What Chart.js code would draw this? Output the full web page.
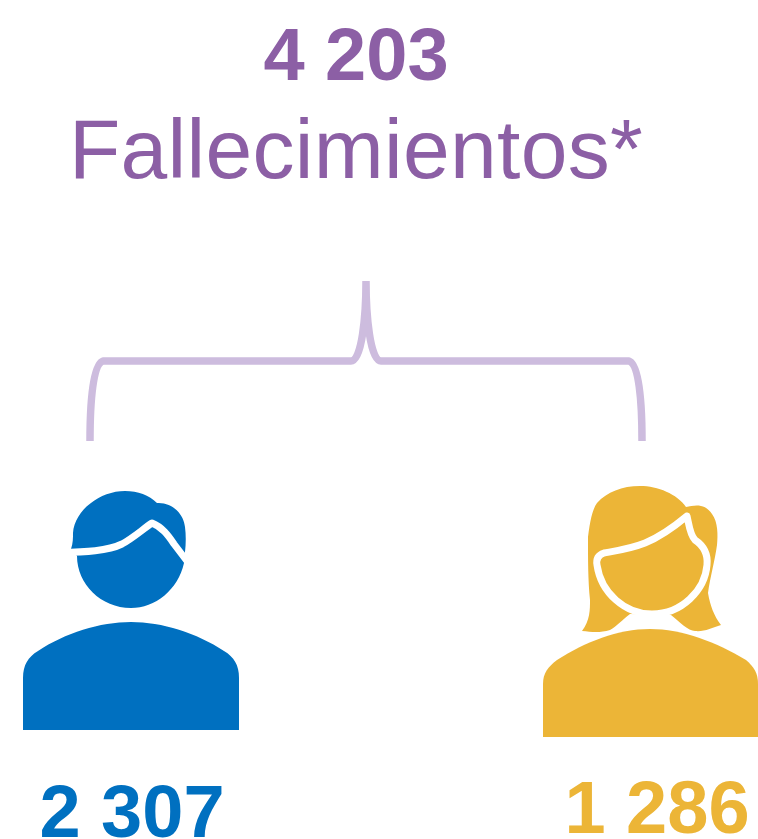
<!DOCTYPE html>
<html>
<head>
<meta charset="utf-8">
<script src="https://cdn.jsdelivr.net/npm/chart.js@4"></script>
<style>
  html, body { margin: 0; padding: 0; background: #fff; overflow: hidden; }
  canvas { display: block; }
</style>
</head>
<body>
<canvas id="myChart" width="758" height="839"></canvas>
<script>
const categories = ["Hombres", "Mujeres"];
const deaths = [2307, 1286];
const totalDeaths = [4203];
const totalLabel = ["Fallecimientos*"];

const purple = "#8C5FA5";
const lilac = "#CDBCDE";
const blue = "#0070C0";
const gold = "#ECB537";

// where the numbers sit, in picture pixels
const numberAnchors = [
  { x: 132, y: 837 },
  { x: 657, y: 833 },
];
const totalAnchor = { x: 356, y: 80 };
const labelAnchor = { x: 356, y: 178 };

const bracketPath = "M366 281 C366 315 362 361 351 361 L103 361 C93 364 90 400 90 441 M366 281 C366 315 370 361 381 361 L629 361 C639 364 642 400 642 441";

const manBody = "M23 730 L23 678 C23 665 28 657 38 651 C65 633 100 622 131 622 C162 622 197 633 224 651 C234 657 239 665 239 678 L239 730 Z";
const manHead = "M71 549 C73 543 73 538 73 533 C75 510 100 491 125 491 C138 491 149 495 157 503 C172 502 184 514 185 527 C186 535 186 543 185 552 L184 563 C178 590 155 608 131 608 C101 608 77 584 77 556 Z";
const manLine = "M60 552.5 C85 552 108 551 122 544 C133 538 143 529 152 523 C162 527 168 535 174 544 L190 565";

const womanBody = "M543 737 L543 684 C543 673 548 667 557 660 C585 642 618 629 650 629 C682 629 716 642 746 660 C754 667 758 673 758 684 L758 737 Z";
const womanHair = "M582 631 C590 620 590 610 590 600 C588 580 588 560 588 537 C590 522 592 510 597 503 C607 492 622 486 640 486 C658 486 677 494 686 507 C695 505 705 503 712 514 C718 522 718 535 717 545 C715 560 710 578 708 593 C710 605 714 616 721 625 C712 628 704 632 695 631 C688 631 680 622 671 615 L630 614 C622 620 617 626 610 630 C600 633 592 632 582 631 Z";
const womanFace = "M687 516 C675 526 662 536 645 543 C630 549 615 551 604 553 C598 555 596 559 597 565 C601 593 625 614 652 614 C682 614 705 590 707 565 C708 555 704 546 695 540 C690 535 689 525 687 516 Z";

const infoPlugin = {
  id: "info",
  afterDatasetsDraw(chart) {
    const ctx = chart.ctx;
    const fill = (d, color) => {
      ctx.fillStyle = color;
      ctx.fill(new Path2D(d));
    };
    const stroke = (d, color, width) => {
      ctx.strokeStyle = color;
      ctx.lineWidth = width;
      ctx.lineJoin = "round";
      ctx.stroke(new Path2D(d));
    };

    ctx.save();
    stroke(bracketPath, lilac, 7.5);
    fill(manBody, blue);
    fill(manHead, blue);
    stroke(manLine, "#fff", 7);
    fill(womanBody, gold);
    fill(womanHair, gold);
    stroke(womanFace, "#fff", 7);

    ctx.textAlign = "center";
    ctx.textBaseline = "alphabetic";
    const fmt = (v) => String(v).replace(/\B(?=(\d{3})+$)/g, " ");

    const total = chart.getDatasetMeta(0).data[0];
    const label = chart.getDatasetMeta(1).data[0];
    ctx.fillStyle = purple;
    ctx.font = "bold 74px 'Liberation Sans'";
    ctx.fillText(fmt(totalDeaths[0]), total.x, total.y);
    ctx.font = "84px 'Liberation Sans'";
    ctx.letterSpacing = "0.3px";
    ctx.fillText(totalLabel[0], label.x, label.y);
    ctx.letterSpacing = "0px";

    ctx.font = "bold 74px 'Liberation Sans'";
    chart.getDatasetMeta(2).data.forEach((pt, i) => {
      ctx.fillStyle = i === 0 ? blue : gold;
      ctx.fillText(fmt(deaths[i]), pt.x, pt.y);
    });
    ctx.restore();
  },
};

const ctx = document.getElementById("myChart").getContext("2d");
const myChart = new Chart(ctx, {
  type: "scatter",
  data: {
    datasets: [
      { label: "Total", data: [totalAnchor], pointRadius: 0 },
      { label: totalLabel[0], data: [labelAnchor], pointRadius: 0 },
      { label: categories.join(" / "), data: numberAnchors, pointRadius: 0 },
    ],
  },
  options: {
    responsive: false,
    animation: false,
    layout: { padding: 0 },
    plugins: { legend: { display: false }, tooltip: { enabled: false } },
    scales: {
      x: { type: "linear", min: 0, max: 758, display: false },
      y: { type: "linear", min: 0, max: 839, reverse: true, display: false },
    },
  },
  plugins: [infoPlugin],
});
</script>
</body>
</html>
